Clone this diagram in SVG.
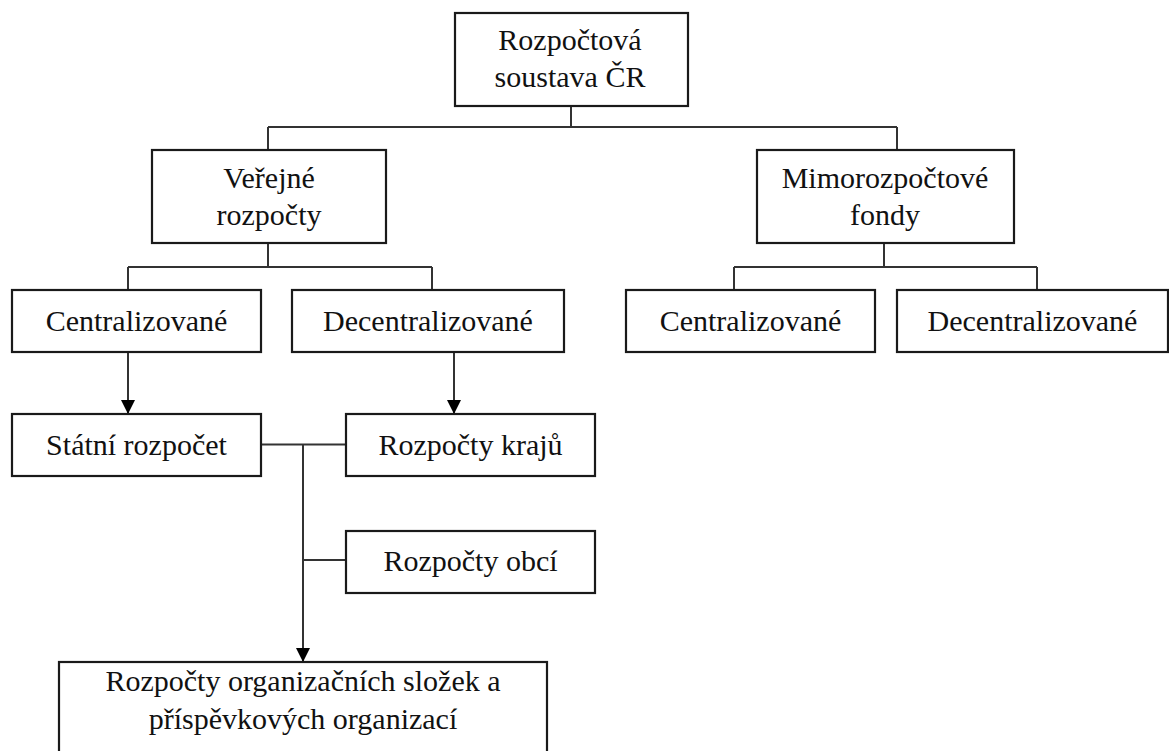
<svg xmlns="http://www.w3.org/2000/svg" width="1169" height="751" viewBox="0 0 1169 751">
<defs>
<style>
.box{fill:#fff;stroke:#1a1a1a;stroke-width:2.2}
.t{font-family:"Liberation Serif","Times New Roman",serif;font-size:30px;fill:#111;text-anchor:middle}
.c{fill:none;stroke:#333;stroke-width:2}
</style>
<marker id="ah" markerUnits="userSpaceOnUse" markerWidth="14" markerHeight="16" refX="13" refY="7" orient="auto" viewBox="0 0 14 14">
<path d="M0,0 L14,7 L0,14 Z" fill="#000"/>
</marker>
</defs>
<rect width="1169" height="751" fill="#fff"/>
<g id="connectors">
<path class="c" d="M571,106 V127 M268,127 H897 M268,127 V150 M897,127 V150"/>
<path class="c" d="M268,243 V267 M128,267 H432 M128,267 V290 M432,267 V290"/>
<path class="c" d="M884,243 V267 M734,267 H1037 M734,267 V290 M1037,267 V290"/>
<path class="c" d="M128,352 V413" marker-end="url(#ah)"/>
<path class="c" d="M454,352 V413" marker-end="url(#ah)"/>
<path class="c" d="M261,444.5 H346 M303,560 H346"/>
<path class="c" d="M303,444.5 V661" marker-end="url(#ah)"/>
</g>
<g id="n-root"><rect class="box" x="455" y="13" width="233" height="93"/><text class="t" x="570" y="50">Rozpočtová</text><text class="t" x="570" y="87">soustava ČR</text></g>
<g id="n-verejne"><rect class="box" x="152" y="150" width="234" height="93"/><text class="t" x="269" y="188">Veřejné</text><text class="t" x="269" y="225">rozpočty</text></g>
<g id="n-mimo"><rect class="box" x="757" y="150" width="257" height="93"/><text class="t" x="885" y="188">Mimorozpočtové</text><text class="t" x="885" y="225">fondy</text></g>
<g id="n-central1"><rect class="box" x="12" y="290" width="249" height="62"/><text class="t" x="136.5" y="331">Centralizované</text></g>
<g id="n-decentral1"><rect class="box" x="292" y="290" width="272" height="62"/><text class="t" x="428" y="331">Decentralizované</text></g>
<g id="n-central2"><rect class="box" x="626" y="290" width="249" height="62"/><text class="t" x="750.5" y="331">Centralizované</text></g>
<g id="n-decentral2"><rect class="box" x="897" y="290" width="271" height="62"/><text class="t" x="1032.5" y="331">Decentralizované</text></g>
<g id="n-statni"><rect class="box" x="12" y="414" width="249" height="62"/><text class="t" x="136.5" y="455">Státní rozpočet</text></g>
<g id="n-kraje"><rect class="box" x="346" y="414" width="249" height="62"/><text class="t" x="470.5" y="455">Rozpočty krajů</text></g>
<g id="n-obce"><rect class="box" x="346" y="531" width="249" height="62"/><text class="t" x="470.5" y="571">Rozpočty obcí</text></g>
<g id="n-org"><rect class="box" x="59" y="662" width="488" height="100"/><text class="t" x="303" y="691">Rozpočty organizačních složek a</text><text class="t" x="303" y="729">příspěvkových organizací</text></g>
</svg>
